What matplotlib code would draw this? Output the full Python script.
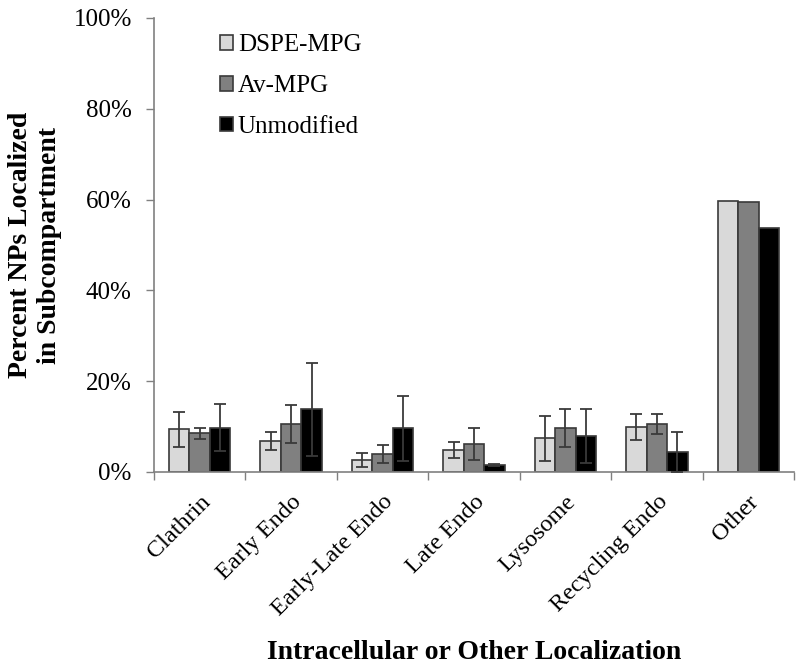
import numpy as np
import matplotlib
matplotlib.use("Agg")
import matplotlib.pyplot as plt
from matplotlib.ticker import FuncFormatter, FixedLocator
from matplotlib.transforms import ScaledTranslation

plt.rcParams['font.family'] = ['Liberation Serif', 'DejaVu Serif']

categories = ["Clathrin", "Early Endo", "Early-Late Endo", "Late Endo",
              "Lysosome", "Recycling Endo", "Other"]
series_names = ["DSPE-MPG", "Av-MPG", "Unmodified"]

dspe_mpg = [9.4, 6.9, 2.6, 4.8, 7.4, 9.9, 59.8]
dspe_err = [3.9, 2.0, 1.5, 1.8, 4.9, 2.9, 0]
av_mpg = [8.5, 10.6, 3.9, 6.1, 9.6, 10.6, 59.5]
av_err = [1.2, 4.2, 2.0, 3.5, 4.2, 2.2, 0]
unmodified = [9.8, 13.8, 9.6, 1.5, 7.9, 4.4, 53.7]
unmod_err = [5.2, 10.3, 7.2, 0.2, 5.9, 4.5, 0]

colors = ["#d9d9d9", "#808080", "#000000"]
edge = "#3a3a3a"

fig = plt.figure(figsize=(8, 6.68), dpi=100)
ax = fig.add_axes([154 / 800, 1 - 472 / 668, 640 / 800, 454 / 668])

x = np.arange(len(categories))
w = 0.224
values = [dspe_mpg, av_mpg, unmodified]
errors = [dspe_err, av_err, unmod_err]
for i, (vals, errs) in enumerate(zip(values, errors)):
    pos = x + (i - 1) * w
    ax.bar(pos, vals, width=w, color=colors[i], edgecolor=edge, linewidth=1.2,
           label=series_names[i], zorder=2)
    mask = np.array(errs) > 0
    ax.errorbar(pos[mask], np.array(vals)[mask], yerr=np.array(errs)[mask],
                fmt="none", ecolor="#3a3a3a", elinewidth=1.3, capsize=4,
                capthick=1.3, zorder=3)

ax.set_xlim(-0.5, len(categories) - 0.5)
ax.set_ylim(0, 100)
ax.yaxis.set_major_locator(FixedLocator([0, 20, 40, 60, 80, 100]))
ax.yaxis.set_major_formatter(FuncFormatter(lambda v, p: f"{v:.0f}%"))

ax.set_xticks(x)
ax.set_xticklabels(categories, rotation=45, ha="right", rotation_mode="anchor")
# nudge rotated labels a bit to the left
shift = ScaledTranslation(-5 / 100, 0, fig.dpi_scale_trans)
for lab in ax.get_xticklabels():
    lab.set_transform(lab.get_transform() + shift)
ax.set_xticks(np.arange(-0.5, len(categories), 1.0), minor=True)
ax.tick_params(axis="x", which="major", length=0, pad=14, labelsize=17.5)
ax.tick_params(axis="x", which="minor", length=6, color="#808080", width=1)
ax.tick_params(axis="y", length=6, color="#808080", width=1, labelsize=18, pad=10)

for s in ["top", "right"]:
    ax.spines[s].set_visible(False)
for s in ["left", "bottom"]:
    ax.spines[s].set_color("#808080")
    ax.spines[s].set_linewidth(1.2)

ax.set_ylabel("Percent NPs Localized\nin Subcompartment", fontsize=20,
              fontweight="bold", labelpad=8, linespacing=1.25)
ax.set_xlabel("Intracellular or Other Localization", fontsize=20,
              fontweight="bold", labelpad=14)

ax.legend(loc="upper left", bbox_to_anchor=(0.103, 0.964), frameon=False,
          fontsize=18, handlelength=0.52, handleheight=0.52, handletextpad=0.2,
          labelspacing=0.75, borderpad=0, borderaxespad=0)

fig.savefig("out.png", dpi=100)
